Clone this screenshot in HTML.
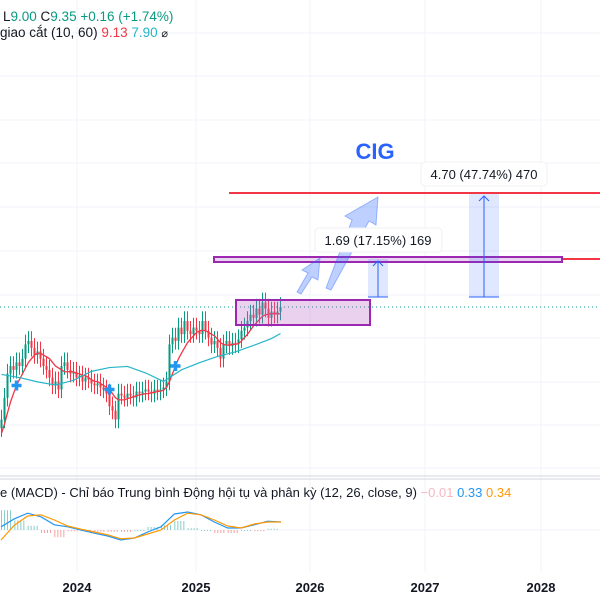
<!DOCTYPE html>
<html><head><meta charset="utf-8"><style>
body{margin:0;width:600px;height:600px;overflow:hidden;background:#fff;font-family:"Liberation Sans","Noto Sans CJK SC",sans-serif}
svg{display:block}
</style></head><body>
<svg id="c" width="600" height="600" xmlns="http://www.w3.org/2000/svg">
<g id="grid"></g>
<g id="overlays-back"></g>
<g id="candles"></g>
<g id="mas"></g>
<g id="macd"></g>
<g id="overlays-front"></g>
<text x="3" y="21" font-size="13.5" fill="#131722">L<tspan fill="#089981">9.00</tspan>  C<tspan fill="#089981">9.35</tspan>  <tspan fill="#089981">+0.16 (+1.74%)</tspan></text>
<text x="0" y="37" font-size="13.5" fill="#131722">giao cắt (10, 60)  <tspan fill="#f23645">9.13</tspan>  <tspan fill="#26b5c8">7.90</tspan>  <tspan font-size="11">⌀</tspan></text>
<text x="0" y="497" font-size="13" fill="#131722">e (MACD) - Chỉ báo Trung bình Động hội tụ và phân kỳ (12, 26, close, 9)  <tspan fill="#f5b8c0">−0.01</tspan>  <tspan fill="#2196f3">0.33</tspan>  <tspan fill="#ff9800">0.34</tspan></text>
<g id="xaxis"></g>
</svg>
<script>
const closes=[6.3,6.8,7.4,7.6,7.5,7.7,7.6,7.8,8.2,8.3,8.1,7.9,8.0,7.8,7.6,7.5,7.3,7.1,7.2,7.0,7.6,7.7,7.5,7.4,7.45,7.3,7.35,7.2,7.3,7.25,7.15,7.1,7.15,7.05,7.0,6.9,6.6,6.5,6.3,6.9,6.85,6.8,6.9,6.85,6.8,6.95,6.9,6.95,7.0,6.95,6.9,7.0,6.95,7.0,7.05,7.2,8.2,8.4,8.3,8.7,8.5,8.9,8.6,8.5,8.7,8.6,8.5,8.9,8.6,8.4,8.2,8.3,8.1,7.8,8.2,8.3,8.15,8.25,8.2,8.35,8.6,8.7,8.9,9.1,9.0,9.3,9.1,9.5,9.3,9.0,9.2,9.1,9.2,9.35];
const ma10=[6.0,6.2,6.45,6.7,6.9,7.1,7.25,7.4,7.55,7.7,7.8,7.9,7.95,7.95,7.9,7.85,7.8,7.7,7.6,7.55,7.5,7.45,7.45,7.45,7.45,7.4,7.4,7.35,7.35,7.3,7.25,7.2,7.2,7.15,7.1,7.05,7.0,6.9,6.8,6.75,6.75,6.75,6.78,6.8,6.82,6.85,6.87,6.88,6.9,6.9,6.92,6.93,6.95,6.96,6.98,7.05,7.2,7.4,7.6,7.8,7.95,8.1,8.25,8.35,8.45,8.55,8.6,8.62,8.6,8.55,8.5,8.45,8.35,8.25,8.2,8.18,8.18,8.2,8.2,8.22,8.3,8.4,8.5,8.62,8.75,8.85,8.95,9.05,9.1,9.12,9.13,9.13,9.13,9.13];
const ma60=[7.38,7.3,7.19,7.11,7.23,7.46,7.56,7.59,7.42,7.2,7.5,7.69,7.86,7.99,8.17,8.37,8.52];
const macdLine=[0.08,0.28,0.42,0.33,0.13,0.08,0.0,-0.08,-0.15,-0.25,-0.2,-0.05,0.08,0.4,0.45,0.38,0.2,0.05,0.05,0.13,0.22,0.2];
const signalLine=[-0.25,0.12,0.35,0.38,0.25,0.1,0.02,-0.05,-0.12,-0.22,-0.2,-0.1,0.0,0.25,0.42,0.38,0.25,0.1,0.05,0.15,0.2,0.2];
const crossIdx=[5,36,58];
const years=["2024","2025","2026","2027","2028"];
const yearX=[77,196,310,425,541];
const lastPrice=9.35;

const NS="http://www.w3.org/2000/svg";
function mk(parent,tag,attrs){const e=document.createElementNS(NS,tag);for(const k in attrs)e.setAttribute(k,attrs[k]);document.getElementById(parent).appendChild(e);return e;}
const py=p=>307-285*Math.log(p/lastPrice);
const bx=i=>1.5+3*i;
const my=v=>530-v*40;

[33,76,120,163,207,251,295,338,382,425,468].forEach(y=>{const l=mk('grid','line',{x1:0,x2:600,y1:y,y2:y,stroke:'#f0f3fa'});
});
yearX.forEach(x=>{const l=mk('grid','line',{x1:x,x2:x,y1:0,y2:572,stroke:'#f0f3fa'});
});
[476,479].forEach(y=>{const l=mk('grid','line',{x1:0,x2:600,y1:y,y2:y,stroke:'#e0e3eb','stroke-width':1.5});
});
const pl=mk('grid','line',{x1:0,x2:600,y1:py(lastPrice),y2:py(lastPrice),stroke:'#089981','stroke-dasharray':'1,3'});


closes.forEach((c,i)=>{const o=i?closes[i-1]:c*0.97;const up=c>=o;const col=up?'#089981':'#f23645';
const hi=Math.max(o,c)*1.035,lo=Math.min(o,c)*0.97;const x=bx(i);
const w=mk('candles','line',{x1:x,x2:x,y1:py(hi),y2:py(lo),stroke:col,'stroke-width':1});

const t=Math.min(py(o),py(c)),h=Math.max(1.5,Math.abs(py(o)-py(c)));
const r=mk('candles','rect',{x:x-1,y:t,width:2,height:h,fill:col});
});

let d=ma10.map((v,i)=>(i?'L':'M')+bx(i)+','+py(v)).join('');
const m1=mk('mas','path',{d:d,fill:'none',stroke:'#f23645','stroke-width':1.3});

d=ma60.map((v,i)=>(i?'L':'M')+bx(Math.min(i*6,closes.length-1))+','+py(v)).join('');
const m2=mk('mas','path',{d:d,fill:'none',stroke:'#26b5c8','stroke-width':1.2});

crossIdx.forEach(i=>{const x=bx(i),y=py(ma10[i]);
const g=mk('mas','path',{d:`M${x-5},${y}h10M${x},${y-5}v10`,stroke:'#2196f3','stroke-width':3.5});
});

const mx=i=>1+i*(280/(macdLine.length-1));
const z=mk('macd','line',{x1:0,x2:600,y1:my(0),y2:my(0),stroke:'#f0f3fa'});

macdLine.forEach((v,i)=>{const h=(v-signalLine[i])*1.5;const hh=Math.abs(h*40);
const col=h>=0?'#26a69a':'#ef5350';
for(let k=0;k<4&&i<macdLine.length-1;k++){const x=mx(i)+k*3;
const r=mk('macd','rect',{x:x,y:h>=0?my(0)-hh:my(0),width:1,height:Math.max(1,hh),fill:col,opacity:0.55});
}});
d=macdLine.map((v,i)=>(i?'L':'M')+mx(i)+','+my(v)).join('');
const ml=mk('macd','path',{d:d,fill:'none',stroke:'#2196f3','stroke-width':1.2});

d=signalLine.map((v,i)=>(i?'L':'M')+mx(i)+','+my(v)).join('');
const sl=mk('macd','path',{d:d,fill:'none',stroke:'#ff9800','stroke-width':1.2});


years.forEach((y,i)=>{const t=mk('xaxis','text',{x:yearX[i],y:592,'font-size':13,'font-weight':'bold','text-anchor':'middle',fill:'#131722'});t.textContent=y;
});

function ov(tag,a,name){const e=mk('overlays-front',tag,a);return e;}
ov('line',{x1:229,x2:600,y1:193,y2:193,stroke:'#f23645','stroke-width':2},'target-line-high');
ov('line',{x1:214,x2:600,y1:259,y2:259,stroke:'#f23645','stroke-width':2},'target-line-low');
ov('rect',{x:214,y:257,width:348,height:5,fill:'#e8d5f0',stroke:'#9c27b0','stroke-width':2},'resistance-zone');
ov('rect',{x:236,y:300,width:134,height:25,fill:'rgba(186,104,200,0.3)',stroke:'#9c27b0','stroke-width':2},'accumulation-box');
ov('rect',{x:368,y:259,width:20,height:38,fill:'rgba(41,98,255,0.15)'},'measure-box-1');
ov('line',{x1:378,x2:378,y1:297,y2:261,stroke:'#2962ff','stroke-width':1},'measure-arrow-1');
ov('path',{d:'M373,266L378,261L383,266M368,297h20',fill:'none',stroke:'#2962ff'},'measure-head-1');
ov('rect',{x:469,y:194,width:30,height:103,fill:'rgba(41,98,255,0.15)'},'measure-box-2');
ov('line',{x1:484,x2:484,y1:297,y2:196,stroke:'#2962ff','stroke-width':1},'measure-arrow-2');
ov('path',{d:'M479,201L484,196L489,201M469,297h30',fill:'none',stroke:'#2962ff'},'measure-head-2');
ov('path',{d:'M297,292L308,273L302,270L320,258L318,280L312,277L301,294Z',fill:'rgba(41,98,255,0.3)',stroke:'rgba(41,98,255,0.4)'},'trend-arrow-1');
ov('path',{d:'M326,288L352,220L345,216L378,197L376,225L369,221L331,290Z',fill:'rgba(41,98,255,0.3)',stroke:'rgba(41,98,255,0.4)'},'trend-arrow-2');
ov('rect',{x:315,y:228,width:127,height:24,rx:4,fill:'#fff',stroke:'#f0f0f0'},'label-box-1');
const t1=ov('text',{x:378,y:245,'font-size':13,'text-anchor':'middle',fill:'#131722'},'label-target-1');t1.textContent='1.69 (17.15%) 169';
ov('rect',{x:421,y:162,width:126,height:24,rx:4,fill:'#fff',stroke:'#f0f0f0'},'label-box-2');
const t2=ov('text',{x:484,y:179,'font-size':13,'text-anchor':'middle',fill:'#131722'},'label-target-2');t2.textContent='4.70 (47.74%) 470';
const tc=ov('text',{x:375,y:159,'font-size':22,'font-weight':'bold','text-anchor':'middle',fill:'#2962ff'},'ticker-title');tc.textContent='CIG';
</script>
</body></html>
